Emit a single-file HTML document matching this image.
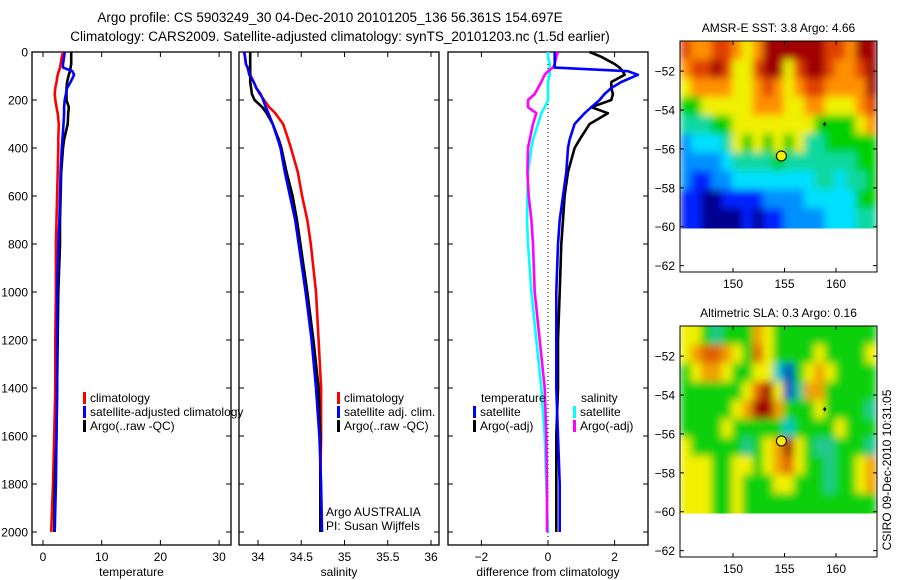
<!DOCTYPE html>
<html><head><meta charset="utf-8"><style>
body{margin:0;background:#fff;}
svg{display:block;font-family:"Liberation Sans",Arial,sans-serif;}
</style></head><body>
<svg id="c" width="900" height="580" viewBox="0 0 900 580" xmlns="http://www.w3.org/2000/svg">
<defs>
<filter id="blur" x="0" y="0" width="100%" height="100%"><feGaussianBlur stdDeviation="4" edgeMode="duplicate"/></filter>
<clipPath id="clip1"><rect x="680" y="41" width="197" height="187.5"/></clipPath>
<clipPath id="clip2"><rect x="680" y="326" width="197" height="187.5"/></clipPath>
</defs>
<text x="330" y="22" font-size="13.5" text-anchor="middle">Argo profile: CS 5903249_30 04-Dec-2010 20101205_136 56.361S 154.697E</text>
<text x="340" y="41" font-size="13.5" text-anchor="middle">Climatology: CARS2009. Satellite-adjusted climatology: synTS_20101203.nc (1.5d earlier)</text>
<text transform="translate(891,470) rotate(-90)" font-size="12" text-anchor="middle">CSIRO 09-Dec-2010 10:31:05</text>
</svg>
<script>
// ---- data ----
const depths = [0,20,50,65,80,95,125,150,175,200,230,255,300,365,400,500,600,700,800,1000,1200,1400,1600,1800,2000];
const tempClim = [3.4,3.2,3.0,2.9,2.7,2.5,2.3,2.1,2.0,2.1,2.3,2.5,2.7,2.6,2.6,2.5,2.4,2.3,2.2,2.2,2.1,2.1,1.9,1.7,1.4];
const tempSat  = [3.7,3.6,3.4,3.4,5.0,5.3,4.7,4.1,3.9,3.7,3.6,3.6,3.5,3.3,3.2,3.0,2.9,2.8,2.6,2.4,2.4,2.4,2.3,2.2,2.0];
const tempArgo = [4.8,4.8,4.8,4.7,4.6,4.4,4.1,4.0,4.0,4.0,4.4,4.3,4.2,3.6,3.4,3.1,3.0,2.9,2.9,2.6,2.5,2.4,2.3,2.0,1.9];
const salClim = [33.84,33.85,33.86,33.88,33.9,33.91,33.95,33.98,34.02,34.07,34.13,34.2,34.29,34.35,34.38,34.46,34.51,34.57,34.61,34.67,34.7,34.73,34.73,34.72,34.72];
const salSat  = [33.84,33.85,33.86,33.88,33.89,33.9,33.95,33.98,34.03,34.06,34.09,34.12,34.17,34.23,34.26,34.31,34.37,34.43,34.47,34.55,34.62,34.67,34.71,34.73,34.74];
const salArgo = [33.91,33.91,33.91,33.91,33.91,33.91,33.91,33.92,33.93,33.96,34.05,34.1,34.17,34.24,34.27,34.33,34.4,34.45,34.49,34.57,34.64,34.7,34.72,34.72,34.72];
const dTempSat  = [0.2,0.2,0.2,0.2,2.4,2.7,2.2,1.9,1.7,1.55,1.3,1.1,0.8,0.65,0.6,0.55,0.45,0.35,0.3,0.25,0.25,0.25,0.3,0.35,0.35];
const dTempArgo = [1.25,1.6,2.0,2.15,2.25,2.3,1.9,1.9,1.95,1.9,1.3,1.8,1.25,0.95,0.8,0.6,0.5,0.45,0.4,0.35,0.3,0.3,0.25,0.25,0.25];
const dSalSat  = [0,0,0.05,0.05,0.05,0.05,0.0,0.0,0.0,0.0,-0.1,-0.2,-0.3,-0.45,-0.5,-0.6,-0.62,-0.63,-0.6,-0.5,-0.35,-0.2,-0.1,-0.05,0];
const dSalArgo = [0.3,0.25,0.2,0.15,0.0,-0.1,-0.2,-0.3,-0.4,-0.6,-0.6,-0.35,-0.45,-0.55,-0.6,-0.62,-0.58,-0.5,-0.45,-0.4,-0.25,-0.1,-0.05,-0.03,-0.03];
const depthTicks = [0,200,400,600,800,1000,1200,1400,1600,1800,2000];
const tempTicks = [0,10,20,30];
const salTicks = [34,34.5,35,35.5,36];
const salTickLabels = ["34","34.5","35","35.5","36"];
const diffTicks = [-2,0,2];
const latTicks = [-52,-54,-56,-58,-60,-62];
const lonTicks = [150,155,160];
const mapLons = [145,146,147,148,149,150,151,152,153,154,155,156,157,158,159,160,161,162,163];
const sstGrid = [
[8,7,7,8,8,7,6,7,9,9,9,9,9,9,8,8,7,9,9],
[7,8,8,9,8,6,6,8,9,9,6,8,9,9,8,7,7,8,9],
[6,7,7,7,7,6,6,7,8,7,6,7,8,8,7,7,7,7,9],
[5,5,6,6,6,6,6,7,7,7,6,6,7,7,6,6,6,7,8],
[4,4,4,5,5,6,6,6,6,6,6,6,6,5,5,5,5,6,7],
[2,3,3,3,4,6,5,6,5,6,5,6,4,4,5,5,5,5,5],
[2,2,2,2,3,4,4,4,4,5,4,4,4,4,4,4,4,5,5],
[2,1,1,2,2,3,3,3,3,3,3,3,3,4,4,3,4,4,5],
[1,1,0,0,1,1,1,1,2,2,2,2,3,3,3,3,3,5,5],
[1,1,0,0,0,0,1,0,1,1,2,2,2,2,3,3,3,4,4]];
const slaGrid = [
[6,6,5,4,5,5,5,7,6,5,5,5,5,5,5,5,5,5,5],
[6,7,8,8,7,6,5,8,6,5,5,5,5,6,5,5,5,5,6],
[5,6,7,7,6,5,5,6,6,3,1,5,6,7,6,5,5,5,5],
[5,5,5,5,5,5,6,8,9,6,1,4,7,7,5,5,5,5,5],
[5,5,5,5,5,6,7,9,9,7,5,5,5,6,5,5,5,5,4],
[5,5,5,5,6,5,5,5,5,5,3,5,5,5,5,6,5,5,5],
[6,5,5,5,5,5,4,5,6,7,9,6,5,4,4,5,5,5,4],
[6,6,6,5,5,6,6,5,6,7,8,6,5,5,4,5,5,6,7],
[6,6,6,5,5,6,5,5,5,6,6,5,5,5,4,5,5,6,7],
[6,6,6,5,5,6,5,5,5,5,5,5,5,5,5,5,5,5,5]];
const argoLon = 154.697, argoLat = -56.361;

// ---- drawing ----
const svg = document.getElementById('c');
const NS = 'http://www.w3.org/2000/svg';
function mk(tag, attrs, parent){const e=document.createElementNS(NS,tag);for(const k in attrs)e.setAttribute(k,attrs[k]);(parent||svg).appendChild(e);return e;}
const jet = ['#00008f','#0020ff','#0090ff','#00e0ff','#10d8a0','#00d000','#f0f000','#ff9000','#e04000','#a00000'];
const slaCol = ['#00008f','#0040c0','#00a0e0','#00c8c8','#20c890','#10d010','#f0f000','#f0a000','#e06000','#a00000'];

const yD = d => 52 + d*0.24;
const panels = [
 {x0:32,x1:231,sx:v=>43+v*5.87,ticks:tempTicks,labels:tempTicks.map(String),xl:'temperature',name:'temperature'},
 {x0:239,x1:439,sx:v=>258+(v-34)*86.5,ticks:salTicks,labels:salTickLabels,xl:'salinity',name:'salinity'},
 {x0:448,x1:648,sx:v=>548+v*33.3,ticks:diffTicks,labels:diffTicks.map(v=>v<0?'\u2212'+(-v):String(v)),xl:'difference from climatology',name:'difference'}
];
const Y0=52,Y1=545;
panels.forEach((p,pi)=>{
  const r=mk('rect',{x:p.x0,y:Y0,width:p.x1-p.x0,height:Y1-Y0,fill:'none',stroke:'#000','stroke-width':1.3});
  
  
  depthTicks.forEach(d=>{
    const y=yD(d);
    mk('line',{x1:p.x0,x2:p.x0+5,y1:y,y2:y,stroke:'#000'});
    mk('line',{x1:p.x1,x2:p.x1-5,y1:y,y2:y,stroke:'#000'});
    if(pi===0){
      const t=mk('text',{x:28,y:y+4.5,'font-size':12,'text-anchor':'end'});t.textContent=d;
      
      
    }
  });
  p.ticks.forEach((v,i)=>{
    const x=p.sx(v);
    mk('line',{x1:x,x2:x,y1:Y0,y2:Y0+5,stroke:'#000'});
    mk('line',{x1:x,x2:x,y1:Y1,y2:Y1-5,stroke:'#000'});
    const t=mk('text',{x:x,y:561,'font-size':12,'text-anchor':'middle'});t.textContent=p.labels[i];
    
    
  });
  const xl=mk('text',{x:(p.x0+p.x1)/2,y:576,'font-size':12,'text-anchor':'middle'});xl.textContent=p.xl;
  
  
});
const zl=mk('line',{x1:548,x2:548,y1:Y0,y2:Y1,stroke:'#000','stroke-dasharray':'1,3'});



function series(p, vals, color, name){
  const pts=vals.map((v,i)=>p.sx(v).toFixed(1)+','+yD(depths[i]).toFixed(1)).join(' ');
  const l=mk('polyline',{points:pts,fill:'none',stroke:color,'stroke-width':2.6,'stroke-linejoin':'round'});
  
  
}
series(panels[0],tempClim,'#ff0000','temp-climatology-line');
series(panels[0],tempArgo,'#000','temp-argo-line');
series(panels[0],tempSat,'#0000ff','temp-satellite-line');
series(panels[1],salClim,'#ff0000','sal-climatology-line');
series(panels[1],salArgo,'#000','sal-argo-line');
series(panels[1],salSat,'#0000ff','sal-satellite-line');
series(panels[2],dSalSat,'#00ffff','diff-sal-satellite-line');
series(panels[2],dSalArgo,'#ff00ff','diff-sal-argo-line');
series(panels[2],dTempArgo,'#000','diff-temp-argo-line');
series(panels[2],dTempSat,'#0000ff','diff-temp-satellite-line');

function legend(x,y,items,name){
  items.forEach((it,i)=>{
    const yy=y+i*14;
    if(it[0]) mk('rect',{x:x,y:yy-10,width:3,height:12,fill:it[0]});
    const t=mk('text',{x:it[0]?x+7:x+8,y:yy,'font-size':12});t.textContent=it[1];
    
    
  });
}
legend(83,402,[['#ff0000','climatology'],['#0000ff','satellite-adjusted climatology'],['#000','Argo(..raw -QC)']],'temp-legend');
legend(337,402,[['#ff0000','climatology'],['#0000ff','satellite adj. clim.'],['#000','Argo(..raw -QC)']],'sal-legend');
legend(473,402,[[null,'temperature'],['#0000ff','satellite'],['#000','Argo(-adj)']],'diff-temp-legend');
legend(573,402,[[null,'salinity'],['#00ffff','satellite'],['#ff00ff','Argo(-adj)']],'diff-sal-legend');
const a1=mk('text',{x:326,y:516,'font-size':12});a1.textContent='Argo AUSTRALIA';


const a2=mk('text',{x:326,y:530,'font-size':12});a2.textContent='PI: Susan Wijffels';



// ---- maps ----
function map(top,bottom,grid,cols,title,name,clip){
  const x0=680,x1=877;
  const pxDeg=19.45, lonDeg=10.3;
  const yRef = top + 1.55*pxDeg;
  const yLat = la => yRef + (-52-la)*pxDeg;
  const xLon = lo => 733 + (lo-150)*lonDeg;
  const rowsH = (yLat(-60)-top)/grid.length;
  const outer=mk('g',{'clip-path':'url(#'+clip+')'});
  const g=mk('g',{filter:'url(#blur)'},outer);
  
  
  grid.forEach((row,ri)=>row.forEach((v,ci)=>{
    const lx=xLon(mapLons[ci]-0.1), rx=xLon(mapLons[ci]+0.9);
    const c=mk('rect',{x:lx,y:top+ri*rowsH-(ri===0?10:0),width:rx-lx+0.6,height:rowsH+0.6+(ri===0?10:0)+(ri===grid.length-1?10:0),fill:cols[v]},g);
    
    
  }));
  const b=mk('rect',{x:x0,y:top,width:x1-x0,height:bottom-top,fill:'none',stroke:'#000'});
  
  
  latTicks.forEach(la=>{
    const y=yLat(la);
    mk('line',{x1:x0,x2:x0+4,y1:y,y2:y,stroke:'#000'});
    mk('line',{x1:x1,x2:x1-4,y1:y,y2:y,stroke:'#000'});
    const t=mk('text',{x:x0-5,y:y+4.5,'font-size':12,'text-anchor':'end'});t.textContent='\u2212'+(-la);
    
    
  });
  lonTicks.forEach(lo=>{
    const x=xLon(lo);
    mk('line',{x1:x,x2:x,y1:top,y2:top+4,stroke:'#000'});
    mk('line',{x1:x,x2:x,y1:bottom,y2:bottom-4,stroke:'#000'});
    const t=mk('text',{x:x,y:bottom+16,'font-size':12,'text-anchor':'middle'});t.textContent=lo;
    
    
  });
  const tt=mk('text',{x:(x0+x1)/2,y:top-9,'font-size':12,'text-anchor':'middle'});tt.textContent=title;
  
  
  const ci=mk('circle',{cx:xLon(argoLon),cy:yLat(argoLat),r:5,fill:'#f0f000',stroke:'#000','stroke-width':1});
  
  
  const m=mk('text',{x:xLon(158.9),y:yLat(-54.7)+3,'font-size':8,'text-anchor':'middle'});m.textContent='\u2666';
  
  
}
map(41,272,sstGrid,jet,'AMSR-E SST: 3.8 Argo: 4.66','sst-map','clip1');
map(326,557,slaGrid,slaCol,'Altimetric SLA: 0.3 Argo: 0.16','sla-map','clip2');
</script>
</body></html>
